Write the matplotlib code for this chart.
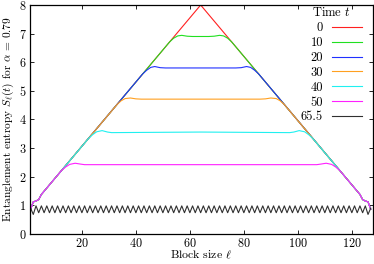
import matplotlib
matplotlib.use("Agg")
import matplotlib.pyplot as plt

plt.rcParams["font.family"] = "serif"
plt.rcParams["font.serif"] = ["cmr10"]
plt.rcParams["mathtext.fontset"] = "cm"
plt.rcParams["axes.formatter.use_mathtext"] = True

# t = 0 : pure linear growth up to the middle of the chain
ell_t0 = [1, 2, 3, 4, 5, 64, 123, 124, 125, 126, 127]
s_t0 = [0.86, 1.12, 1.15, 1.2, 1.38, 8.0, 1.38, 1.2, 1.15, 1.12, 0.86]

ell_t10 = [1, 2, 3, 4, 5, 52.5, 54, 55.5, 57, 59, 61, 64, 67, 69, 71, 72.5, 74, 75.5, 123, 124, 125, 126, 127]
s_t10 = [0.86, 1.12, 1.15, 1.2, 1.38, 6.71, 6.84, 6.92, 6.94, 6.91, 6.90, 6.90, 6.90, 6.91, 6.94, 6.92, 6.84, 6.71,
         1.38, 1.2, 1.15, 1.12, 0.86]

ell_t20 = [1, 2, 3, 4, 5, 42.5, 44, 45.5, 47, 49, 51, 64, 77, 79, 81, 82.5, 84, 85.5, 123, 124, 125, 126, 127]
s_t20 = [0.86, 1.12, 1.15, 1.2, 1.38, 5.59, 5.72, 5.82, 5.85, 5.81, 5.80, 5.80, 5.80, 5.81, 5.85, 5.82, 5.72, 5.59,
         1.38, 1.2, 1.15, 1.12, 0.86]

ell_t30 = [1, 2, 3, 4, 5, 33, 34.5, 36, 38, 40, 42, 64, 86, 88, 90, 92, 93.5, 95, 123, 124, 125, 126, 127]
s_t30 = [0.86, 1.12, 1.15, 1.2, 1.38, 4.52, 4.65, 4.73, 4.75, 4.72, 4.71, 4.71, 4.71, 4.72, 4.75, 4.73, 4.65, 4.52,
         1.38, 1.2, 1.15, 1.12, 0.86]

ell_t40 = [1, 2, 3, 4, 5, 22.5, 24, 25.5, 27.5, 29.5, 31, 64, 97, 98.5, 100.5, 102.5, 104, 105.5, 123, 124, 125, 126, 127]
s_t40 = [0.86, 1.12, 1.15, 1.2, 1.38, 3.34, 3.47, 3.57, 3.61, 3.56, 3.54, 3.56, 3.54, 3.56, 3.61, 3.57, 3.47, 3.34,
         1.38, 1.2, 1.15, 1.12, 0.86]

ell_t50 = [1, 2, 3, 4, 5, 12.5, 14, 15.5, 17.5, 19.5, 21, 64, 107, 108.5, 110.5, 112.5, 114, 115.5, 123, 124, 125, 126, 127]
s_t50 = [0.86, 1.12, 1.15, 1.2, 1.38, 2.22, 2.34, 2.43, 2.47, 2.44, 2.42, 2.42, 2.42, 2.44, 2.47, 2.43, 2.34, 2.22,
         1.38, 1.2, 1.15, 1.12, 0.86]

# t = 65.5 : even/odd oscillation, one value per block size 1..127
ell_t65 = list(range(1, 128))
s_t65 = [
    0.90, 0.68, 0.98, 0.74, 0.98, 0.74, 0.98, 0.74, 0.98, 0.74, 0.98, 0.74, 0.98, 0.74, 0.98, 0.74,
    0.98, 0.74, 0.98, 0.74, 0.98, 0.74, 0.98, 0.74, 0.98, 0.74, 0.98, 0.74, 0.98, 0.74, 0.98, 0.74,
    0.98, 0.74, 0.98, 0.74, 0.98, 0.74, 0.98, 0.74, 0.98, 0.74, 0.98, 0.74, 0.98, 0.74, 0.98, 0.74,
    0.98, 0.74, 0.98, 0.74, 0.98, 0.74, 0.98, 0.74, 0.98, 0.74, 0.98, 0.74, 0.98, 0.74, 0.98, 0.74,
    0.98, 0.74, 0.98, 0.74, 0.98, 0.74, 0.98, 0.74, 0.98, 0.74, 0.98, 0.74, 0.98, 0.74, 0.98, 0.74,
    0.98, 0.74, 0.98, 0.74, 0.98, 0.74, 0.98, 0.74, 0.98, 0.74, 0.98, 0.74, 0.98, 0.74, 0.98, 0.74,
    0.98, 0.74, 0.98, 0.74, 0.98, 0.74, 0.98, 0.74, 0.98, 0.74, 0.98, 0.74, 0.98, 0.74, 0.98, 0.74,
    0.98, 0.74, 0.98, 0.74, 0.98, 0.74, 0.98, 0.74, 0.98, 0.74, 0.98, 0.74, 0.98, 0.68, 0.90,
]

labels = ["0", "10", "20", "30", "40", "50", "65.5"]
colors = ["#ff2020", "#20e020", "#2030ff", "#ffa020", "#20f0f0", "#ff20ff", "#303030"]
series = [(ell_t0, s_t0), (ell_t10, s_t10), (ell_t20, s_t20), (ell_t30, s_t30),
          (ell_t40, s_t40), (ell_t50, s_t50), (ell_t65, s_t65)]

x_ticks = [20, 40, 60, 80, 100, 120]
y_ticks = [0, 1, 2, 3, 4, 5, 6, 7, 8]

fig = plt.figure(figsize=(3.74, 2.64), dpi=100)
ax = fig.add_axes([0.080, 0.114, 0.917, 0.867])

for (x, y), lab, col in zip(series, labels, colors):
    ax.plot(x, y, color=col, linewidth=0.8, label=lab)

ax.set_xlim(0.75, 127.8)
ax.set_ylim(0, 8)
ax.set_xticks(x_ticks)
ax.set_yticks(y_ticks)
ax.tick_params(direction="in", top=True, right=True, length=3, width=0.6, labelsize=8.8, pad=2.5)
ax.tick_params(axis="x", pad=2)
for sp in ax.spines.values():
    sp.set_linewidth(0.9)

ax.set_xlabel(r"Block size $\ell$", fontsize=8.5, labelpad=-1)
ax.set_ylabel(r"Entanglement entropy $S_\ell(t)$ for $\alpha$ = 0.79", fontsize=8.2, labelpad=2)

leg = ax.legend(title=r"Time $t$", loc="upper right", frameon=False, markerfirst=False,
                fontsize=9, title_fontsize=9, handlelength=2.4, labelspacing=0.22,
                handletextpad=0.7, borderaxespad=0.0, borderpad=0.2,
                bbox_to_anchor=(0.975, 1.005))

fig.savefig("out.png", dpi=100)
